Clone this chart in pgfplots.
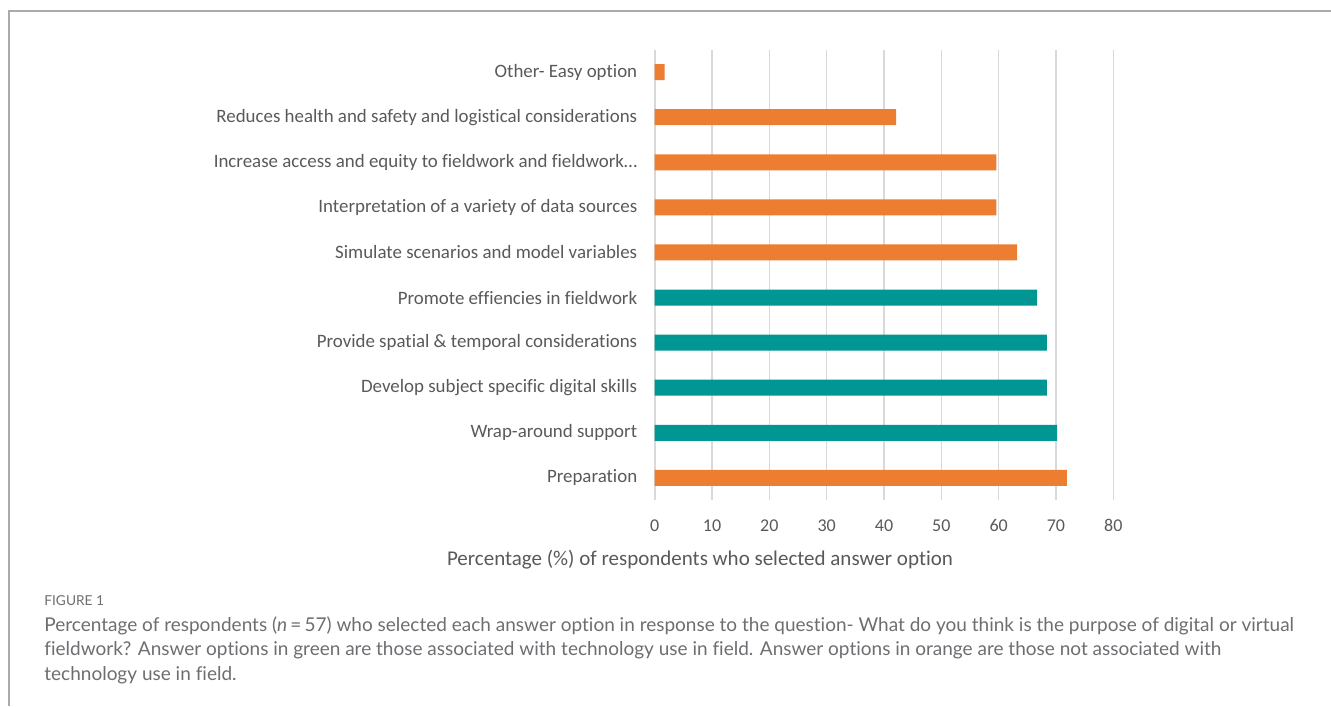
\documentclass[border=0pt]{standalone}
\usepackage{fontspec}
\setmainfont{Carlito}[Ligatures=CommonOff]
\newfontfamily\capfont{Lato}[Ligatures=CommonOff]
\usepackage{pgfplots}
\pgfplotsset{compat=1.18}
\definecolor{orng}{HTML}{ED7D31}
\definecolor{tealc}{HTML}{009694}
\definecolor{txt}{HTML}{595959}
\definecolor{gridc}{HTML}{D9D9D9}
\definecolor{capc}{HTML}{6D6E71}
\definecolor{framec}{HTML}{AAAAAA}
\begin{document}
\begin{tikzpicture}[x=0.5pt,y=0.5pt]
\path[use as bounding box] (0,0) rectangle (1331,706);
\draw[framec, line width=0.9pt] (9,0) -- (9,695) -- (1331,695);
\begin{axis}[
  at={(327.35pt,102.75pt)}, anchor=south west,
  scale only axis, width=229.3pt, height=225.5pt,
  xmin=0, xmax=80, ymin=-0.5, ymax=9.5,
  xbar, bar width=8pt, bar shift=0pt,
  axis line style={draw=none},
  tick style={draw=none},
  xmajorgrids, grid style={gridc, line width=0.8pt},
  xtick={0,10,...,80}, ytick={0,...,9},
  yticklabels={Preparation, Wrap-around support, Develop subject specific digital skills, Provide spatial \& temporal considerations, Promote effiencies in fieldwork, Simulate scenarios and model variables, Interpretation of a variety of data sources, Increase access and equity to fieldwork and fieldwork…, Reduces health and safety and logistical considerations, Other- Easy option},
  yticklabel style={font=\fontsize{9.45}{11}\selectfont, text=txt, anchor=east, inner sep=0pt, xshift=-4.3pt},
  xticklabel style={font=\fontsize{9}{11}\selectfont, text=txt, anchor=base, inner sep=0pt, yshift=-15.6pt},
  /pgf/number format/assume math mode=true,
  xlabel={Percentage (\%) of respondents who selected answer option},
  xlabel style={at={(axis cs:7.9,-0.5)}, anchor=base, inner sep=0pt, yshift=-32.5pt, font=\fontsize{10.5}{12}\selectfont, text=txt},
]
\addplot[fill=orng, draw=none] table {
x y
71.9 0
63.2 5
59.6 6
59.6 7
42.1 8
1.75 9
};
\addplot[fill=tealc, draw=none] table {
x y
70.2 1
68.4 2
68.4 3
66.7 4
};
\end{axis}
\begin{scope}[every node/.style={anchor=base west, inner sep=0pt, text=capc}]
\node at (44,100) {\capfont\fontsize{6.85}{8}\selectfont FIGURE 1};
\node at (44,75) {\capfont\fontsize{9.5}{11}\selectfont Percentage of respondents ({\itshape n}\,=\,57) who selected each answer option in response to the question- What do you think is the purpose of digital or virtual};
\node at (44,50.5) {\capfont\fontsize{9.5}{11}\selectfont fieldwork? Answer options in green are those associated with technology use in field. Answer options in orange are those not associated with};
\node at (44,26) {\capfont\fontsize{9.5}{11}\selectfont technology use in field.};
\end{scope}
\end{tikzpicture}
\end{document}
